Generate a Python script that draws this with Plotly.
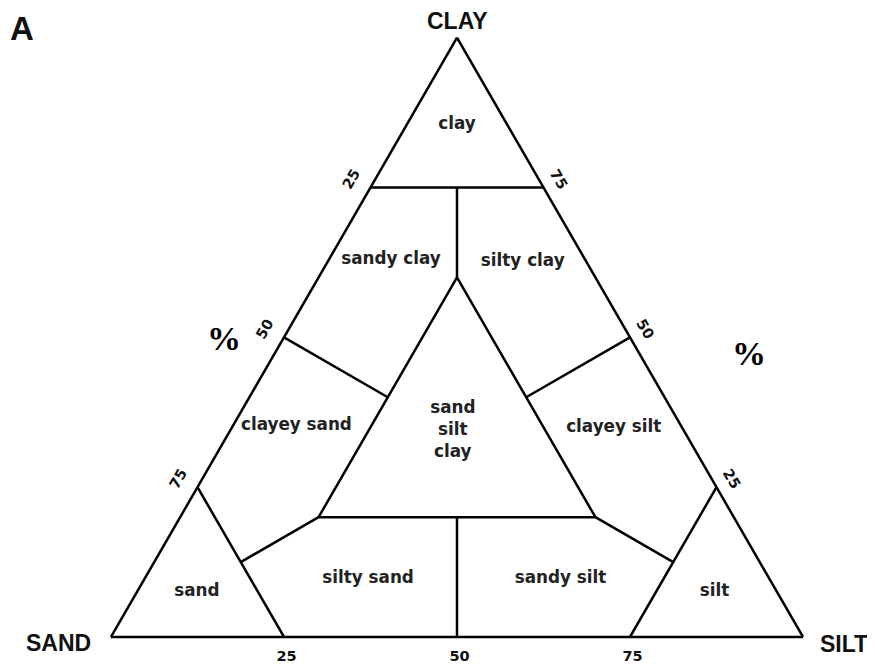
import plotly.graph_objects as go

# Shepard-style sand / silt / clay classification (percent)
tick_vals = [25, 50, 75]
tick_text = ["75", "50", "25"]
tick_text_right = ["\u00a0\u00a075", "\u00a0\u00a050", "\u00a0\u00a025"]

# boundary segments, None separates the pieces
bound_clay = [75, 75, None, 25, 0, None, 25, 0, None,
              60, 20, 20, 60, None, 75, 60, None, 20, 0, None,
              50, 40, None, 50, 40, None, 20, 12.5, None, 20, 12.5]
bound_sand = [25, 0, None, 75, 75, None, 0, 25, None,
              20, 60, 20, 20, None, 12.5, 20, None, 40, 50, None,
              50, 40, None, 0, 20, None, 60, 75, None, 20, 12.5]
bound_silt = [0, 25, None, 0, 25, None, 75, 75, None,
              20, 20, 60, 20, None, 12.5, 20, None, 40, 50, None,
              0, 20, None, 50, 40, None, 20, 12.5, None, 60, 75]

# class names and where they sit
class_names = ["clay", "sandy clay", "silty clay", "clayey sand", "sand<br>silt<br>clay",
               "clayey silt", "sand", "silty sand", "sandy silt", "silt"]
class_clay = [85.4, 62.9, 62.6, 35.2, 34.4, 34.9, 7.6, 9.7, 9.7, 7.6]
class_sand = [7.3, 28.1, 9.2, 55.6, 33.4, 9.9, 83.8, 58.0, 30.2, 9.0]
class_silt = [7.3, 9.0, 28.2, 9.2, 32.2, 55.2, 8.6, 32.3, 60.1, 83.4]

W, H = 875, 669
PAGE = 8  # default body margin of the html page


def px(x):
    return (x - PAGE) / W


def py(y):
    return 1 - (y - PAGE) / H


fig = go.Figure()

fig.add_trace(go.Scatterternary(
    a=bound_clay, b=bound_sand, c=bound_silt,
    mode="lines",
    line=dict(color="black", width=2.5),
    hoverinfo="skip",
    showlegend=False
))

fig.add_trace(go.Scatterternary(
    a=class_clay, b=class_sand, c=class_silt,
    mode="text",
    text=class_names,
    textfont=dict(family="DejaVu Sans", size=16.8, color="#222222", weight="bold"),
    hoverinfo="text",
    showlegend=False
))

axis_common = dict(
    tickmode="array", tickvals=tick_vals,
    tickfont=dict(family="DejaVu Sans", size=14.5, color="#111111", weight="bold"),
    ticks="outside", ticklen=5, tickcolor="rgba(0,0,0,0)",
    showgrid=False, showline=True, linecolor="black", linewidth=2.5,
    min=0, title=dict(text="")
)

fig.update_layout(
    width=W, height=H,
    margin=dict(l=0, r=0, t=0, b=0),
    paper_bgcolor="white",
    showlegend=False,
    ternary=dict(
        sum=100,
        bgcolor="white",
        domain=dict(x=[px(111), px(803)], y=[py(637), py(37.7)]),
        aaxis=dict(axis_common, ticktext=tick_text, tickangle=-60, ticklen=9),
        baxis=dict(axis_common, ticktext=tick_text, tickangle=0),
        caxis=dict(axis_common, ticktext=tick_text_right, tickangle=60),
    ),
)

title_font = dict(family="Liberation Sans", size=23, color="#111111", weight="bold")
fig.add_annotation(text="CLAY", x=px(458), y=py(21.5), xref="paper", yref="paper", borderpad=0,
                   showarrow=False, font=title_font, xanchor="center", yanchor="middle")
fig.add_annotation(text="SAND", x=px(58), y=py(643), xref="paper", yref="paper",
                   showarrow=False, font=title_font, xanchor="center", yanchor="middle")
fig.add_annotation(text="SILT", x=px(844), y=py(644), xref="paper", yref="paper",
                   showarrow=False, font=title_font, xanchor="center", yanchor="middle")
fig.add_annotation(text="A", x=px(22), y=py(28), xref="paper", yref="paper", borderpad=0,
                   showarrow=False, font=dict(family="Liberation Sans", size=33, color="#111111", weight="bold"),
                   xanchor="center", yanchor="middle")

pct_font = dict(family="Liberation Serif", size=34, color="black", weight="bold")
fig.add_annotation(text="%", x=px(224), y=py(339), xref="paper", yref="paper",
                   showarrow=False, font=pct_font, xanchor="center", yanchor="middle")
fig.add_annotation(text="%", x=px(749), y=py(353), xref="paper", yref="paper",
                   showarrow=False, font=pct_font, xanchor="center", yanchor="middle")

fig.write_html("out.html")
